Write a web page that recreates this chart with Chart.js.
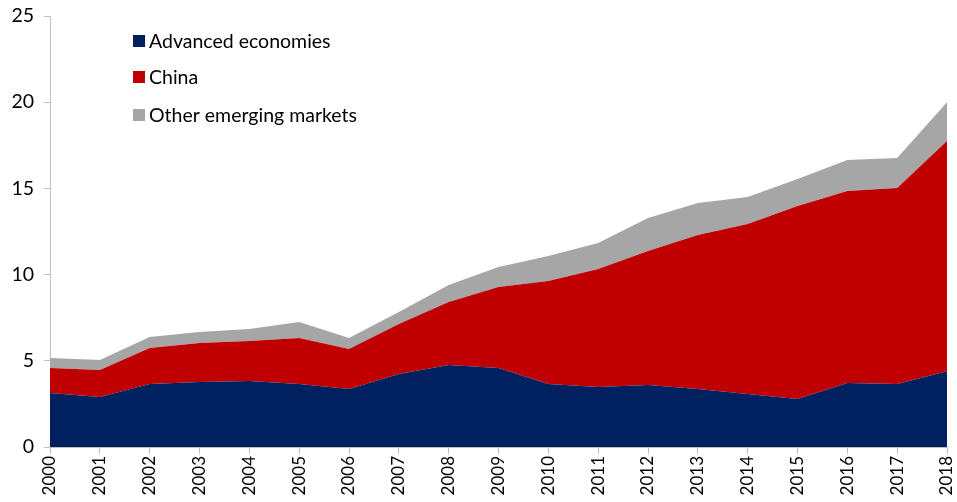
<!DOCTYPE html>
<html>
<head>
<meta charset="utf-8">
<script src="https://cdn.jsdelivr.net/npm/chart.js@4/dist/chart.umd.min.js"></script>
<style>
	html, body { margin: 0; padding: 0; background: #fff; }
	#grafico { width: 957px; height: 502px; }
</style>
</head>
<body>
<div id="grafico"><canvas id="areaChart"></canvas></div>
<script>
var anos = ['2000','2001','2002','2003','2004','2005','2006','2007','2008','2009',
	'2010','2011','2012','2013','2014','2015','2016','2017','2018'];

var avancadas = [3.13, 2.90, 3.65, 3.77, 3.83, 3.65, 3.36, 4.23, 4.75, 4.58,
	3.65, 3.48, 3.60, 3.36, 3.07, 2.78, 3.71, 3.65, 4.40];

var china = [1.45, 1.57, 2.09, 2.26, 2.32, 2.67, 2.32, 2.90, 3.66, 4.70,
	5.98, 6.84, 7.77, 8.94, 9.86, 11.20, 11.14, 11.37, 13.35];

var outrosEmergentes = [0.58, 0.58, 0.64, 0.64, 0.69, 0.93, 0.64, 0.70, 0.99, 1.16,
	1.45, 1.51, 1.91, 1.85, 1.57, 1.57, 1.80, 1.74, 2.25];

var nomesSeries = ['Advanced economies', 'China', 'Other emerging markets'];
var yTicks = [0, 5, 10, 15, 20, 25];

var fonte = 'Lato, "Open Sans", sans-serif';

// legenda desenhada dentro da area do grafico
var legendaInterna = {
	id: 'legendaInterna',
	afterDraw: function(chart) {
		var ctx = chart.ctx;
		var linhas = [41, 77, 115];
		ctx.save();
		ctx.font = '19.5px ' + fonte;
		ctx.textBaseline = 'middle';
		chart.data.datasets.forEach(function(ds, i) {
			ctx.fillStyle = ds.backgroundColor;
			ctx.fillRect(133, linhas[i] - 6, 12, 12);
			ctx.fillStyle = '#000';
			ctx.fillText(ds.label, 149, linhas[i] + 1);
		});
		ctx.restore();
	}
};

var ctx = document.getElementById('areaChart').getContext('2d');
var graficoArea = new Chart(ctx, {
	type: 'line',
	data: {
		labels: anos,
		datasets: [{
			label: nomesSeries[0],
			backgroundColor: '#002060',
			borderWidth: 0,
			pointRadius: 0,
			fill: 'origin',
			data: avancadas
		},
		{
			label: nomesSeries[1],
			backgroundColor: '#C00000',
			borderWidth: 0,
			pointRadius: 0,
			fill: '-1',
			data: china
		},
		{
			label: nomesSeries[2],
			backgroundColor: '#A6A6A6',
			borderWidth: 0,
			pointRadius: 0,
			fill: '-1',
			data: outrosEmergentes
		}]
	},
	options: {
		responsive: true,
		maintainAspectRatio: false,
		animation: false,
		layout: { padding: { top: 16, right: 10, left: 0, bottom: 0 } },
		plugins: {
			legend: { display: false },
			tooltip: { enabled: false }
		},
		scales: {
			x: {
				offset: false,
				afterFit: function(s) {
					s.height = 55;
					s.paddingLeft = 0;
					s.paddingRight = 0;
				},
				border: { color: '#BFBFBF', width: 1 },
				grid: { display: true, drawOnChartArea: false, drawTicks: true, tickLength: 7, color: '#BFBFBF' },
				ticks: {
					autoSkip: false,
					minRotation: 90,
					maxRotation: 90,
					padding: 2,
					color: '#000',
					font: { family: fonte, size: 17 }
				}
			},
			y: {
				stacked: true,
				min: 0,
				max: 25,
				afterFit: function(s) {
					s.width = 50;
					s.paddingTop = 0;
					s.paddingBottom = 0;
				},
				afterBuildTicks: function(s) {
					s.ticks = yTicks.map(function(v) { return { value: v }; });
				},
				border: { color: '#BFBFBF', width: 1 },
				grid: { display: true, drawOnChartArea: false, drawTicks: true, tickLength: 6, color: '#BFBFBF' },
				ticks: {
					padding: 10,
					color: '#000',
					font: { family: fonte, size: 19.5 }
				}
			}
		}
	},
	plugins: [legendaInterna]
});
</script>
</body>
</html>
